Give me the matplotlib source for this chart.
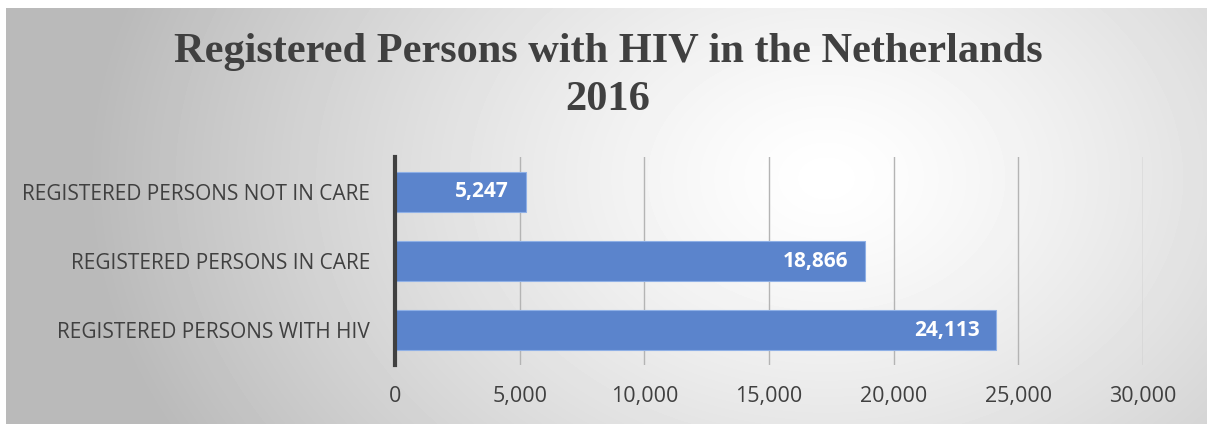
import matplotlib.pyplot as plt
import numpy as np

categories = ["REGISTERED PERSONS WITH HIV", "REGISTERED PERSONS IN CARE",
              "REGISTERED PERSONS NOT IN CARE"]
values = [24113, 18866, 5247]
xticks = [0, 5000, 10000, 15000, 20000, 25000, 30000]

fig = plt.figure(figsize=(12.16, 4.25), dpi=100)

# radial gradient background
bg = fig.add_axes([6 / 1216, 1 / 425, 1201 / 1216, 416 / 425])
yy, xx = np.mgrid[0:416, 0:1201]
r = np.sqrt(((xx - 820) / 700.0) ** 2 + ((yy - 170) / 520.0) ** 2)
shade = 1.0 - 0.27 * np.clip(r / 1.05, 0, 1) ** 1.3
bg.imshow(shade, cmap="gray", vmin=0, vmax=1, aspect="auto")
bg.set_axis_off()

ax = fig.add_axes([395 / 1216, 1 - 365 / 425, (1143 - 395) / 1216, 208 / 425])
ax.patch.set_alpha(0)
bars = ax.barh(range(len(values)), values, height=0.58, color="#5b84cc",
               edgecolor="#8fb0e6", linewidth=0.8, zorder=3)
for b, v in zip(bars, values):
    ax.annotate(f"{v:,}", (v, b.get_y() + b.get_height() / 2),
                xytext=(-12, 0), textcoords="offset points", ha="right",
                va="center", color="white", fontsize=15, fontweight="bold",
                family="Open Sans", zorder=4)

ax.set_xlim(0, 30000)
ax.set_ylim(-0.5, 2.5)
ax.set_xticks(xticks)
ax.set_xticklabels([f"{t:,}" for t in xticks], family="Open Sans", fontsize=15.5,
                   color="#404040")
ax.set_yticks(range(len(categories)))
ax.set_yticklabels(categories, family="Open Sans", fontsize=15, color="#404040")
ax.tick_params(length=0)
ax.tick_params(axis="x", pad=15)
ax.tick_params(axis="y", pad=18)
ax.grid(axis="x", color="#b4b4b4", linewidth=1, zorder=0)
for s in ["top", "right", "bottom"]:
    ax.spines[s].set_visible(False)
ax.spines["left"].set_color("#404040")
ax.spines["left"].set_linewidth(3)
ax.spines["left"].set_zorder(5)

title_lines = ["Registered Persons with HIV in the Netherlands", "2016"]
for line, ypx in zip(title_lines, [52, 100]):
    fig.text(0.5, 1 - ypx / 425, line, ha="center", va="center",
             family="Liberation Serif", fontweight="bold", fontsize=30.5,
             color="#404040")

fig.savefig("out.png", dpi=100)
